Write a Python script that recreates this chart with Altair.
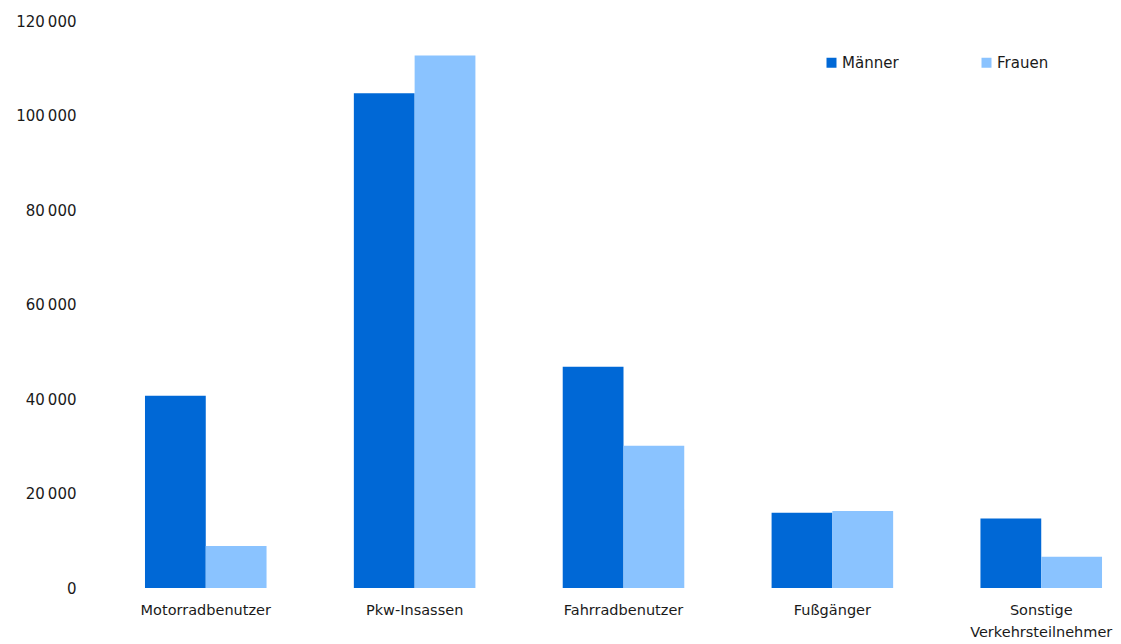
import altair as alt
import pandas as pd

categories = ["Motorradbenutzer", "Pkw-Insassen", "Fahrradbenutzer", "Fußgänger", "Sonstige Verkehrsteilnehmer"]
series = ["Männer", "Frauen"]
maenner = [40700, 104700, 46800, 15900, 14700]
frauen = [8900, 112700, 30100, 16300, 6600]
colors = ["#0068d6", "#8ac3ff"]
y_ticks = [0, 20000, 40000, 60000, 80000, 100000, 120000]

rows = []
for c, m, f in zip(categories, maenner, frauen):
    rows.append({"Kategorie": c, "Geschlecht": "Männer", "Wert": m})
    rows.append({"Kategorie": c, "Geschlecht": "Frauen", "Wert": f})
df = pd.DataFrame(rows)

FONT = "DejaVu Sans"

chart = alt.Chart(df).mark_bar().encode(
    x=alt.X("Kategorie:N", sort=categories, title=None,
            scale=alt.Scale(paddingInner=0.418, paddingOuter=0.043),
            axis=alt.Axis(labelAngle=0, labelPadding=15, labelExpr="split(datum.label, ' ')",
                          labelLineHeight=22, labelLimit=300, labelOverlap=False,
                          labelFontSize=14.5)),
    xOffset=alt.XOffset("Geschlecht:N", sort=series,
                        scale=alt.Scale(paddingInner=0, paddingOuter=0)),
    y=alt.Y("Wert:Q", title=None,
            scale=alt.Scale(domain=[0, 120000], nice=False),
            axis=alt.Axis(values=y_ticks, labelPadding=60,
                          labelExpr="replace(format(datum.value, ','), ',', '\u2009')")),
    color=alt.Color("Geschlecht:N", sort=series,
                    scale=alt.Scale(domain=series, range=colors),
                    legend=alt.Legend(title=None, orient="none", legendX=688, legendY=34,
                                      direction="horizontal", symbolType="square",
                                      symbolSize=100, symbolStrokeWidth=0, labelOffset=3,
                                      columnPadding=80, labelFontSize=15)),
).properties(
    width=975, height=567,
    autosize=alt.AutoSizeParams(type="none"),
    padding={"left": 128, "top": 13, "right": 2, "bottom": 56},
).configure_view(stroke=None).configure_axis(
    domain=False, ticks=False, grid=False,
    labelFont=FONT, labelFontSize=15, labelColor="#1a1a1a",
).configure_legend(labelFont=FONT, labelColor="#1a1a1a")

chart.save("out.html", embed_options={"renderer": "svg", "actions": False})
